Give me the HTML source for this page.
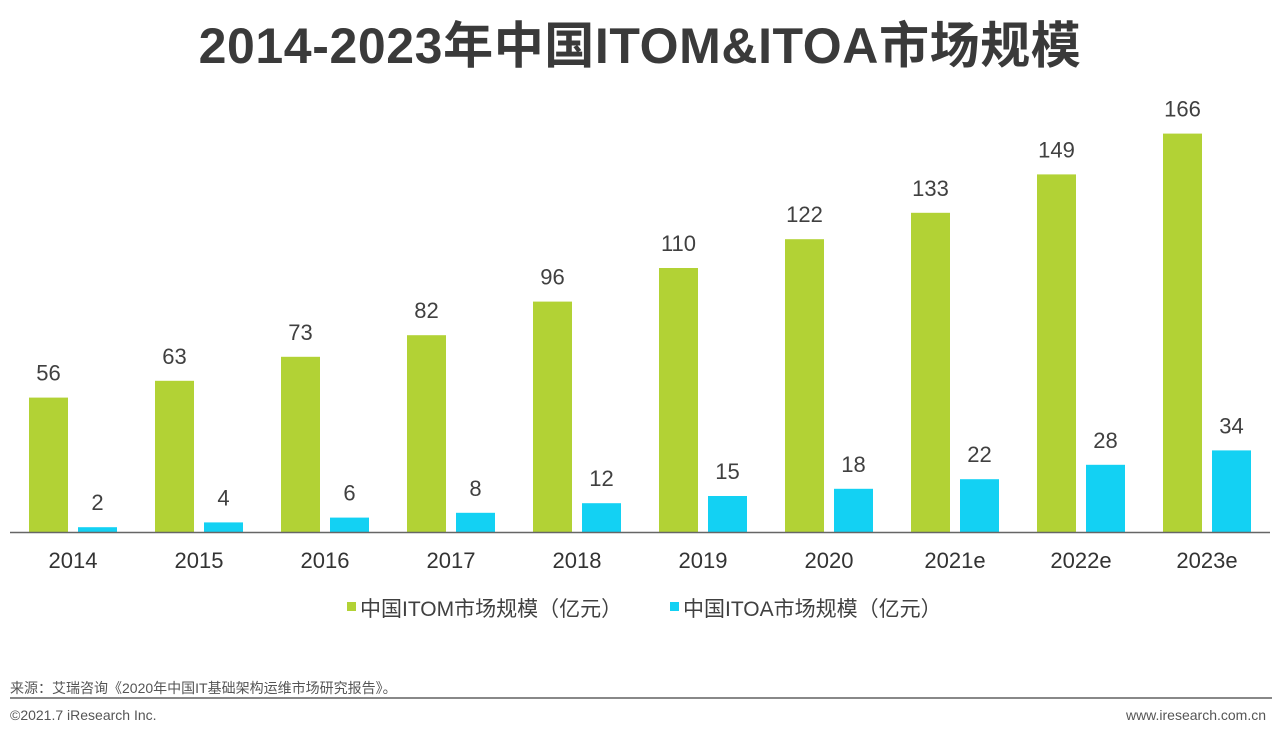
<!DOCTYPE html>
<html><head><meta charset="utf-8"><style>
body{margin:0;width:1280px;height:740px;background:#fff;font-family:"Liberation Sans","Noto Sans CJK SC",sans-serif;overflow:hidden;position:relative}
.t{position:absolute;left:0;width:1280px;text-align:center;top:6px;font-size:50px;letter-spacing:0.6px;font-weight:bold;color:#3a3a3a}
</style></head><body>
<div class="t">2014-2023年中国ITOM&amp;ITOA市场规模</div>
<svg id="c" width="1280" height="740" style="position:absolute;left:0;top:0"></svg>
<div style="position:absolute;left:10px;top:678px;font-size:14px;color:#555">来源：艾瑞咨询《2020年中国IT基础架构运维市场研究报告》。</div>
<div style="position:absolute;left:10px;top:697px;width:1262px;height:2px;background:#888"></div>
<div style="position:absolute;left:10px;top:707px;font-size:14px;color:#555">©2021.7 iResearch Inc.</div>
<div style="position:absolute;right:14px;top:707px;font-size:14px;color:#555">www.iresearch.com.cn</div>
<script>
const categories=["2014","2015","2016","2017","2018","2019","2020","2021e","2022e","2023e"];
const itom=[56,63,73,82,96,110,122,133,149,166];
const itoa=[2,4,6,8,12,15,18,22,28,34];
const svg=document.getElementById('c');const NS='http://www.w3.org/2000/svg';
const base=532,k=2.4;
const y=v=>base-v*k;const xc=i=>73+126*i;
function mk(t,a){const e=document.createElementNS(NS,t);for(const n in a)e.setAttribute(n,a[n]);svg.appendChild(e);return e;}
categories.forEach((c,i)=>{
 const g=mk('rect',{x:xc(i)-44,y:y(itom[i]),width:39,height:itom[i]*k,fill:'#b2d235'});
 
 
 const b=mk('rect',{x:xc(i)+5,y:y(itoa[i]),width:39,height:itoa[i]*k,fill:'#13d1f3'});
 
 
 const l1=mk('text',{x:xc(i)-24.5,y:y(itom[i])-17,'text-anchor':'middle','font-size':22,fill:'#404040'});l1.textContent=itom[i];
 
 
 const l2=mk('text',{x:xc(i)+24.5,y:y(itoa[i])-17,'text-anchor':'middle','font-size':22,fill:'#404040'});l2.textContent=itoa[i];
 
 
 const t=mk('text',{x:xc(i),y:568,'text-anchor':'middle','font-size':22,fill:'#333'});t.textContent=c;
 
 
});
const ax=mk('line',{x1:10,x2:1270,y1:base+0.5,y2:base+0.5,stroke:'#666','stroke-width':1.5});


const lg=[["#b2d235","中国ITOM市场规模（亿元）",347],["#13d1f3","中国ITOA市场规模（亿元）",670]];
lg.forEach(d=>{
 const r=mk('rect',{x:d[2],y:602,width:9,height:9,fill:d[0]});
 
 
 const t=mk('text',{x:d[2]+13,y:616,'font-size':21,fill:'#404040'});t.textContent=d[1];
 
 
});
</script>
</body></html>
